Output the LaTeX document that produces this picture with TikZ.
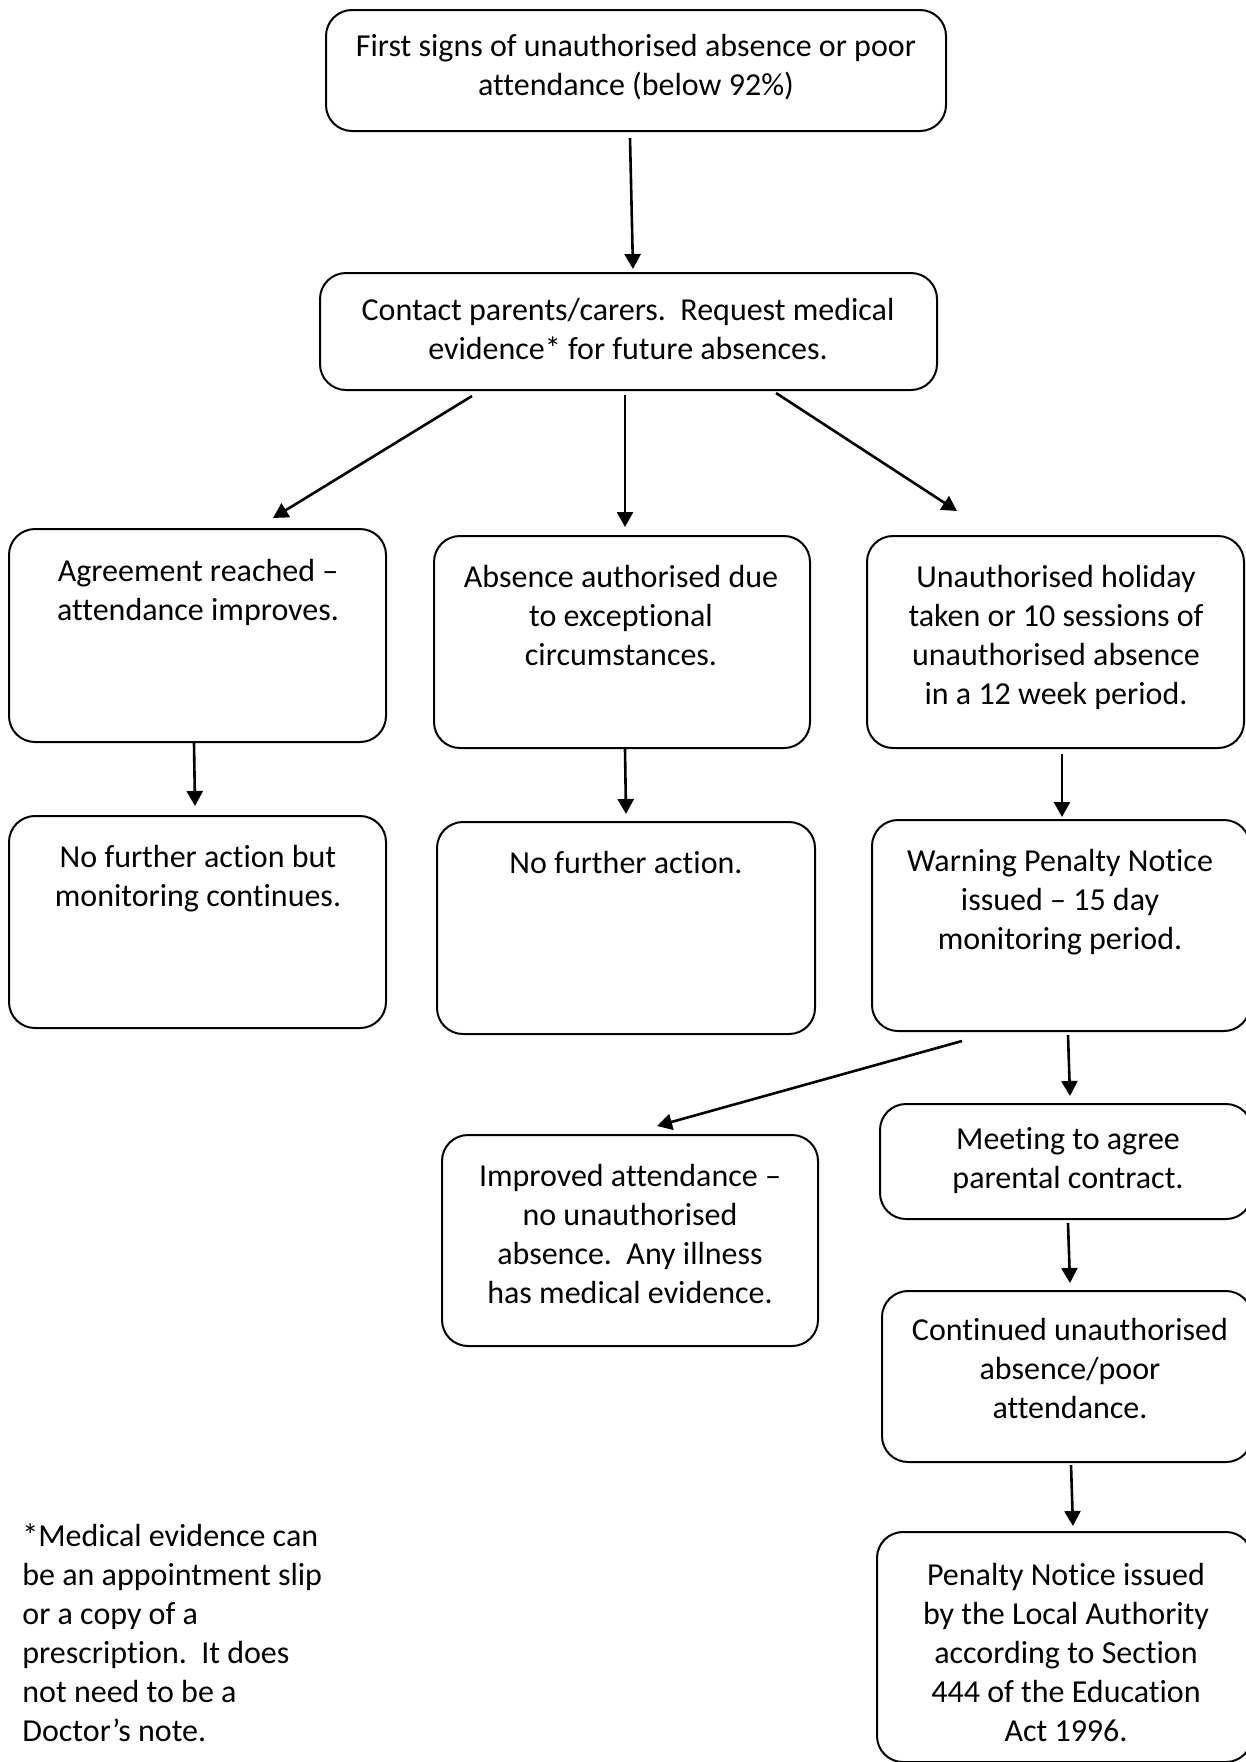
\documentclass[tikz,border=0pt]{standalone}
\usepackage{fontspec}
\setmainfont{Carlito}[Ligatures={NoCommon}]
\usetikzlibrary{arrows.meta,calc}
\begin{document}
\begin{tikzpicture}[x=0.5pt,y=-0.5pt,
  box/.style={draw, line width=1pt, rounded corners=13pt, inner sep=0pt},
  txt/.style={font=\fontsize{16}{19.5}\selectfont, align=center, inner sep=0pt},
  arr/.style={line width=1.3pt, -{Triangle[length=7.5pt,width=8pt]}}]
\useasboundingbox (0,0) rectangle (1246,1762);
\clip (0,0) rectangle (1246,1762);
% boxes
\node[box, minimum width=310pt, minimum height=60.5pt] (b1) at (636,70.5) {};
\node[box, minimum width=308.5pt, minimum height=58.5pt] (b2) at (628.5,331.5) {};
\node[box, minimum width=188.5pt, minimum height=106.5pt] (a) at (197.5,635.5) {};
\node[box, minimum width=188pt, minimum height=106pt] (b) at (622,642) {};
\node[box, minimum width=188.5pt, minimum height=106pt] (c) at (1055.5,642) {};
\node[box, minimum width=188.5pt, minimum height=106pt] (a2) at (197.5,922) {};
\node[box, minimum width=189pt, minimum height=106pt] (b2x) at (626,928) {};
\node[box, minimum width=189pt, minimum height=105.5pt] (c2) at (1061,925.5) {};
\node[box, minimum width=188pt, minimum height=105.5pt] (imp) at (630,1240.5) {};
\node[box, minimum width=186pt, minimum height=57.5pt] (meet) at (1066,1161.5) {};
\node[box, minimum width=185pt, minimum height=85.5pt] (cont) at (1067,1376.5) {};
\node[box, minimum width=187.5pt, minimum height=115pt] (pen) at (1064.5,1647) {};
% texts
\node[txt] (t1) at (636,67.5) {First signs of unauthorised absence or poor\\attendance (below 92\%)};
\node[txt] (t2) at (628,329) {Contact parents/carers.\ \ Request medical\\evidence* for future absences.};
\node[txt] (ta) at (198,592.5) {Agreement reached –\\attendance improves.};
\node[txt] (tb) at (621,616) {Absence authorised due\\to exceptional\\circumstances.};
\node[txt] (tc) at (1056,637.5) {Unauthorised holiday\\taken or 10 sessions of\\unauthorised absence\\in a 12 week period.};
\node[txt] (ta2) at (198,878.5) {No further action but\\monitoring continues.};
\node[txt] (tb2) at (626,863) {No further action.};
\node[txt] (tc2) at (1060,902.5) {Warning Penalty Notice\\issued – 15 day\\monitoring period.};
\node[txt] (timp) at (630,1234) {Improved attendance –\\no unauthorised\\absence.\ \ Any illness\\has medical evidence.};
\node[txt] (tmeet) at (1068,1161) {Meeting to agree\\parental contract.};
\node[txt] (tcont) at (1070,1368.5) {Continued unauthorised\\absence/poor\\attendance.};
\node[txt] (tpen) at (1066,1652) {Penalty Notice issued\\by the Local Authority\\according to Section\\444 of the Education\\Act 1996.};
\node[txt, align=left, anchor=west] (foot) at (22,1632.5) {*Medical evidence can\\be an appointment slip\\or a copy of a\\prescription.\ \ It does\\not need to be a\\Doctor’s note.};
% arrows
\draw[arr] ($(b1.south)+(-6,6)$) -- ($(b2.north)+(4.5,-3)$);
\draw[arr] ($(b2.south)+(-156.5,5)$) -- ($(a.north)+(75.5,-10)$);
\draw[arr] ($(b2.south)+(-3.5,4)$) -- ($(b.north)+(3,-8)$);
\draw[arr] ($(b2.south)+(147.5,2)$) -- ($(c.north)+(-98.5,-24)$);
\draw[arr] ($(a.south)+(-3.5,0)$) -- ($(a2.north)+(-2.5,-9)$);
\draw[arr] ($(b.south)+(3,0)$) -- ($(b2x.north)+(0,-7)$);
\draw[arr] ($(c.south)+(6.5,5)$) -- ($(c2.north)+(1,-2)$);
\draw[arr] ($(c2.south)+(-99,9)$) -- ($(imp.north)+(27,-8)$);
\draw[arr] ($(c2.south)+(7,3)$) -- ($(meet.north)+(4,-7)$);
\draw[arr] ($(meet.south)+(2,3)$) -- ($(cont.north)+(3,-7)$);
\draw[arr] ($(cont.south)+(4,2)$) -- ($(pen.north)+(8.5,-5)$);
\end{tikzpicture}
\end{document}
